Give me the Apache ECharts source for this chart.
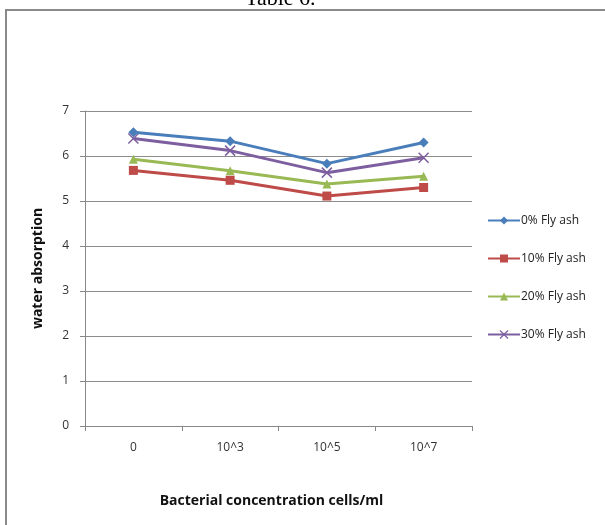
<!DOCTYPE html>
<html>
<head>
<meta charset="utf-8">
<script src="https://cdn.jsdelivr.net/npm/echarts@6/dist/echarts.min.js"></script>
<style>
  html, body { margin: 0; padding: 0; background: #fff; }
  #chart { width: 605px; height: 525px; }
</style>
</head>
<body>
<div id="chart"></div>
<script>
// Bacterial concentration levels (x categories)
const categories = ['0', '10^3', '10^5', '10^7'];

// Water absorption for each fly ash replacement level
const flyAsh0 = [6.53, 6.33, 5.83, 6.30];
const flyAsh10 = [5.68, 5.46, 5.11, 5.30];
const flyAsh20 = [5.93, 5.67, 5.38, 5.55];
const flyAsh30 = [6.39, 6.12, 5.63, 5.96];

const seriesNames = ['0% Fly ash', '10% Fly ash', '20% Fly ash', '30% Fly ash'];
const seriesColors = ['#4A7EBB', '#BE4B48', '#98B954', '#7D5FA0'];
const seriesSymbols = ['diamond', 'rect', 'triangle',
  'path://M0,0 L10,10 M10,0 L0,10'];

const yTicks = [0, 1, 2, 3, 4, 5, 6, 7];

const font = '"Open Sans", Lato, sans-serif';
const chart = echarts.init(document.getElementById('chart'));

const dataSets = [flyAsh0, flyAsh10, flyAsh20, flyAsh30];
const series = dataSets.map((d, i) => ({
  name: seriesNames[i],
  type: 'line',
  data: d,
  symbol: seriesSymbols[i],
  symbolSize: i === 3 ? 10 : (i === 0 ? 10 : 9),
  showAllSymbol: true,
  lineStyle: { color: seriesColors[i], width: 3 },
  itemStyle: i === 3
    ? { color: 'transparent', borderColor: seriesColors[i], borderWidth: 1.5 }
    : { color: seriesColors[i], borderWidth: 0 },
  emphasis: { disabled: true },
  z: 3 + (3 - i)
}));

chart.setOption({
  animation: false,
  backgroundColor: '#fff',
  graphic: [
    {
      type: 'rect',
      shape: { x: 6, y: 10, width: 700, height: 600 },
      style: { fill: 'none', stroke: '#8a8a8a', lineWidth: 2 },
      silent: true
    },
    {
      type: 'text',
      left: 245,
      top: -12,
      style: { text: 'Table 6.', font: '22px "Liberation Serif", serif', fill: '#000' },
      silent: true
    }
  ],
  legend: {
    orient: 'vertical',
    left: 482,
    top: 207,
    itemGap: 21,
    itemWidth: 32,
    itemHeight: 10,
    textStyle: { fontFamily: font, fontSize: 12, lineHeight: 17, color: '#222', padding: [0, 0, 0, -4] },
    data: seriesNames.map((n, i) => ({ name: n, itemStyle: i === 3 ? { color: 'transparent', borderColor: seriesColors[i], borderWidth: 1.2 } : { color: seriesColors[i] } })),
    selectedMode: false
  },
  grid: { left: 85, top: 111, width: 387, height: 315, containLabel: false },
  xAxis: {
    type: 'category',
    data: categories,
    boundaryGap: true,
    axisLine: { lineStyle: { color: '#888', width: 1 } },
    axisTick: { show: true, length: 5, lineStyle: { color: '#888' } },
    axisLabel: { fontFamily: font, fontSize: 12, color: '#333', margin: 16 },
    name: 'Bacterial concentration cells/ml',
    nameLocation: 'middle',
    nameGap: 68,
    nameTextStyle: { fontFamily: font, fontSize: 14, fontWeight: 'bold', color: '#111', padding: [0, 14, 0, 0] }
  },
  yAxis: {
    type: 'value',
    min: yTicks[0],
    max: yTicks[yTicks.length - 1],
    interval: 1,
    axisLine: { show: true, lineStyle: { color: '#888', width: 1 } },
    axisTick: { show: true, length: 5, lineStyle: { color: '#888' } },
    splitLine: { lineStyle: { color: '#8c8c8c', width: 1 } },
    axisLabel: { fontFamily: font, fontSize: 12, color: '#333', margin: 16 },
    name: 'water absorption',
    nameLocation: 'middle',
    nameGap: 40,
    nameRotate: 90,
    nameTextStyle: { fontFamily: font, fontSize: 14, fontWeight: 'bold', color: '#111' }
  },
  series
});
</script>
</body>
</html>
